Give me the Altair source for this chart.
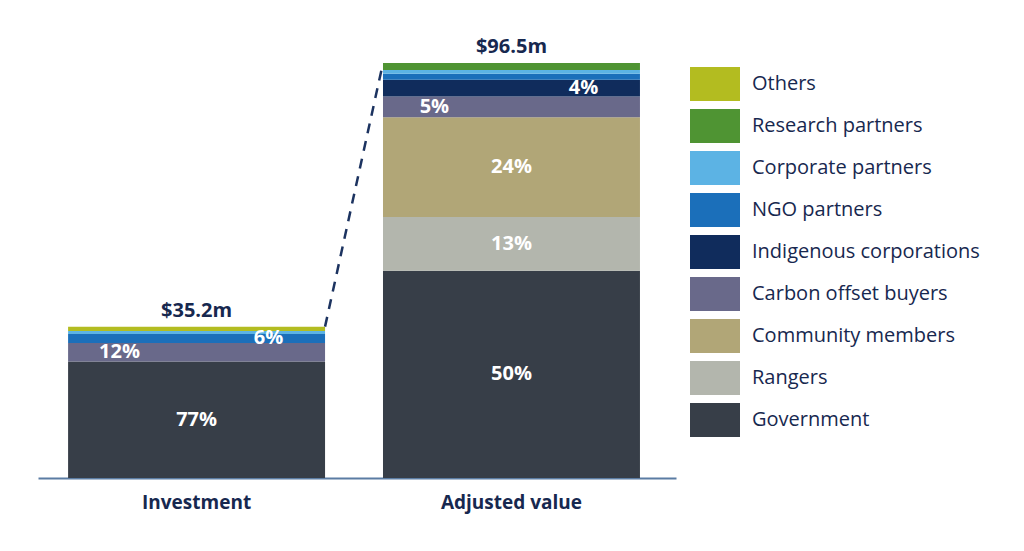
import altair as alt
import pandas as pd

# ---------------- data ----------------
bars = ["Investment", "Adjusted value"]
groups = ["Others", "Research partners", "Corporate partners", "NGO partners",
          "Indigenous corporations", "Carbon offset buyers", "Community members",
          "Rangers", "Government"]
colors = ["#b3bc20", "#4f9433", "#5cb3e4", "#1b6fba", "#102c5c",
          "#69698a", "#b1a677", "#b3b6ad", "#373e48"]

# $m values, order as groups list
investment_values = [1.0, 0.0, 0.7, 2.1, 0.0, 4.3, 0.0, 0.0, 27.1]
adjusted_values = [0.0, 1.6, 0.9, 1.4, 3.9, 4.8, 23.2, 12.5, 48.2]
totals = [35.2, 96.5]
total_labels = ["$35.2m", "$96.5m"]

seg_bar = ["Investment", "Investment", "Investment",
           "Adjusted value", "Adjusted value", "Adjusted value", "Adjusted value", "Adjusted value"]
seg_group = ["Government", "Carbon offset buyers", "NGO partners",
             "Government", "Rangers", "Community members", "Carbon offset buyers", "Indigenous corporations"]
seg_text = ["77%", "12%", "6%", "50%", "13%", "24%", "5%", "4%"]
seg_pos = ["center", "left", "right", "center", "center", "center", "left", "right"]

# ---------------- tables ----------------
rows = []
for b, vals in zip(bars, [investment_values, adjusted_values]):
    for i, (g, v) in enumerate(zip(groups, vals)):
        rows.append({"bar": b, "group": g, "value": v, "order": len(groups) - i})
df = pd.DataFrame(rows)
df = df.sort_values(["bar", "order"])
df["y1"] = df.groupby("bar")["value"].cumsum()
df["y0"] = df["y1"] - df["value"]
df["mid"] = (df["y0"] + df["y1"]) / 2

lab = pd.DataFrame({"bar": seg_bar, "group": seg_group, "text": seg_text, "pos": seg_pos})
lab = lab.merge(df[["bar", "group", "mid"]], on=["bar", "group"])

tot = pd.DataFrame({"bar": bars, "total": totals, "label": total_labels})
conn = pd.DataFrame({"from": [bars[0]], "to": [bars[1]], "y_from": [totals[0]], "y_to": [totals[1]]})

NAVY = "#17284f"
FONT = "Open Sans"

xscale = alt.Scale(domain=bars, paddingInner=0.184, paddingOuter=0.105, align=0.455)
yscale = alt.Scale(domain=[0, 100], nice=False)

base_x = alt.X("bar:N", scale=xscale, sort=bars,
               axis=alt.Axis(title=None, labelAngle=0, ticks=False, domainColor="#5b7ca3",
                             domainWidth=2, labelFont=FONT, labelFontWeight="bold",
                             labelFontSize=19, labelColor=NAVY, labelPadding=15))

bar_layer = alt.Chart(df).mark_bar(stroke=None).encode(
    x=base_x,
    y=alt.Y("y0:Q", scale=yscale, axis=None),
    y2="y1:Q",
    color=alt.Color("group:N", scale=alt.Scale(domain=groups, range=colors),
                    legend=alt.Legend(title=None, orient="none", legendX=652, legendY=11,
                                      symbolType="M-1,-0.68H1V0.68H-1Z", symbolSize=2500,
                                      symbolStrokeWidth=0, symbolOpacity=1,
                                      labelFont=FONT, labelFontSize=20, labelColor=NAVY,
                                      labelOffset=12, rowPadding=0, labelLimit=400)),
)

def seg_text_layer(pos, bp):
    return alt.Chart(lab[lab["pos"] == pos]).mark_text(
        color="white", font=FONT, fontWeight="bold", fontSize=20, baseline="middle"
    ).encode(
        x=alt.X("bar:N", scale=xscale, sort=bars, bandPosition=bp),
        y=alt.Y("mid:Q", scale=yscale),
        text="text:N",
    )

total_layer = alt.Chart(tot).mark_text(
    color=NAVY, font=FONT, fontWeight="bold", fontSize=20, baseline="alphabetic", dy=-10
).encode(
    x=alt.X("bar:N", scale=xscale, sort=bars),
    y=alt.Y("total:Q", scale=yscale),
    text="label:N",
)

conn_layer = alt.Chart(conn).mark_rule(
    color="#1c3360", strokeWidth=2.5, strokeDash=[10, 8]
).encode(
    x=alt.X("from:N", scale=xscale, sort=bars, bandPosition=1),
    x2=alt.X2("to:N", bandPosition=0),
    y=alt.Y("y_from:Q", scale=yscale),
    y2="y_to:Q",
)

chart = alt.layer(
    bar_layer, conn_layer,
    seg_text_layer("center", 0.5), seg_text_layer("left", 0.2), seg_text_layer("right", 0.78),
    total_layer,
).properties(
    width=638, height=430,
    background="white",
    autosize=alt.AutoSizeParams(type="none"),
    padding={"left": 30, "top": 40, "right": 330, "bottom": 50},
).configure_view(strokeWidth=0, stroke=None)

chart.save("out.html", embed_options={"renderer": "svg", "actions": False})
